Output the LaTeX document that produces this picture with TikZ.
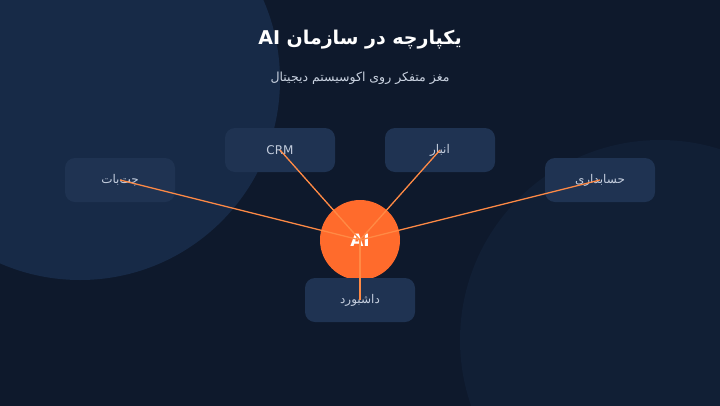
\documentclass[tikz,border=0pt]{standalone}
\usepackage{fontspec}
\setmainfont{DejaVu Sans}
\newfontfamily\fafont[Script=Arabic]{DejaVu Sans}
\TeXXeTstate=1
\usetikzlibrary{positioning}

\definecolor{bgdark}{HTML}{0E192C}
\definecolor{blobtop}{HTML}{172A47}
\definecolor{blobbot}{HTML}{111F35}
\definecolor{appfill}{HTML}{1F3352}
\definecolor{applabel}{HTML}{C3CDDD}
\definecolor{subtext}{HTML}{C9D2E0}
\definecolor{aiorange}{HTML}{FF6B2C}
\definecolor{linkorange}{HTML}{FF8A45}

\begin{document}
\begin{tikzpicture}[x=1pt,y=-1pt,
  app/.style={rectangle, rounded corners=10pt, fill=appfill, minimum width=110pt,
    minimum height=44pt, inner sep=0pt, text=applabel, font=\fafont\fontsize{12}{14}\selectfont},
  link/.style={draw=linkorange, line width=1.3pt}]

\useasboundingbox (0,0) rectangle (720,405);
\fill[bgdark] (-5,-5) rectangle (725,410);
%% soft background blobs
\fill[blobtop] (80,80) circle (200pt);
\fill[blobbot] (660,340) circle (200pt);

\node[font=\fafont\bfseries\fontsize{19}{23}\selectfont, text=white] (title) at (360,40)
  {\beginR یکپارچه در سازمان \beginL AI\endL\endR};
\node[font=\fafont\fontsize{12.5}{15}\selectfont, text=subtext, below=38pt of title.center, anchor=center] (subtitle)
  {\beginR مغز متفکر روی اکوسیستم دیجیتال\endR};

\node[circle, fill=aiorange, minimum size=80pt, inner sep=0pt, text=white,
  font=\bfseries\fontsize{17}{17}\selectfont] (ai) at (360,240) {AI};

\node[app, on grid, above left=90pt and 80pt of ai] (crm) {CRM};
\node[app, on grid, above right=90pt and 80pt of ai] (anbar) {\beginR انبار\endR};
\node[app, on grid, above left=60pt and 240pt of ai] (chat) {\beginR چت‌بات\endR};
\node[app, on grid, above right=60pt and 240pt of ai] (hesab) {\beginR حسابداری\endR};
\node[app, on grid, below=60pt of ai] (dash) {\beginR داشبورد\endR};

%% spokes on top
\foreach \n in {chat,crm,anbar,hesab,dash}
  \draw[link] (ai.center) -- (\n.center);

\end{tikzpicture}
\end{document}
